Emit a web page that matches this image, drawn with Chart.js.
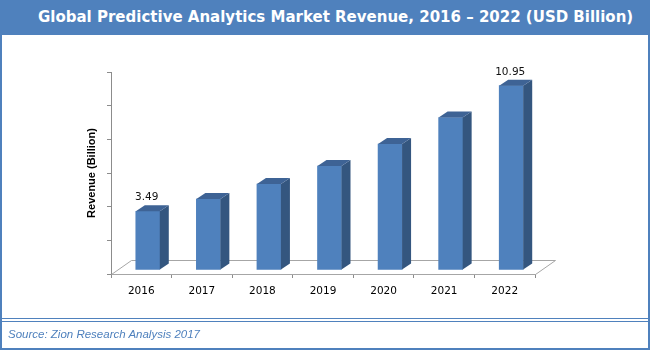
<!DOCTYPE html>
<html><head><meta charset="utf-8">
<script src="https://cdn.jsdelivr.net/npm/chart.js@4/dist/chart.umd.min.js"></script>
<style>
html,body{margin:0;padding:0;background:#fff;}
#wrap{position:relative;width:650px;height:350px;overflow:hidden;background:#fff;}
#c{position:absolute;left:0;top:0;}
#head{position:absolute;left:0;top:0;width:650px;height:35px;background:#4f81bd;}
#title{position:absolute;left:38px;top:0;line-height:34px;color:#fff;font-weight:bold;font-size:15px;font-family:"DejaVu Sans",Verdana,sans-serif;white-space:nowrap;}
#frame{position:absolute;left:0;top:0;width:650px;height:350px;box-sizing:border-box;border:2px solid #4f81bd;pointer-events:none;}
#sep1{position:absolute;left:0;top:318px;width:650px;height:1px;background:#4f81bd;}
#sep2{position:absolute;left:0;top:321px;width:650px;height:1px;background:#4f81bd;}
#src{position:absolute;left:8px;top:327px;line-height:15px;color:#4f81bd;font-style:italic;font-size:11.5px;font-family:"Liberation Sans",Arial,sans-serif;white-space:nowrap;}
</style>
</head><body>
<div id="wrap">
  <canvas id="c" width="650" height="350"></canvas>
  <div id="head"><div id="title">Global Predictive Analytics Market Revenue, 2016 – 2022 (USD Billion)</div></div>
  <div id="sep1"></div><div id="sep2"></div>
  <div id="src">Source: Zion Research Analysis 2017</div>
  <div id="frame"></div>
</div>
<script>
const years = ['2016', '2017', '2018', '2019', '2020', '2021', '2022'];
const revenue = [3.49, 4.22, 5.11, 6.18, 7.48, 9.06, 10.95];
const labeledYears = ['2016', '2022'];
const yMin = 0, yMax = 12, yStep = 2;
const yTitle = 'Revenue (Billion)';

const FRONT = '#4f81bd', SIDE = '#34567f', TOP = '#3e6395';
const DX = 6.5, DY = -4;   // bar row placement on the floor
const SX = 9, SY = -6;     // bar depth
const FX = 20, FY = -14;   // floor depth
const LABEL_FONT = '10.5px "DejaVu Sans", Verdana, sans-serif';

const depthPlugin = {
  id: 'depth',
  beforeDatasetsDraw(chart) {
    const {ctx, chartArea: a} = chart;
    ctx.save();
    ctx.strokeStyle = '#a6a6a6';
    ctx.lineWidth = 1;
    ctx.beginPath();
    ctx.moveTo(a.left + 0.5, a.bottom + 0.5);
    ctx.lineTo(a.left + FX + 0.5, a.bottom + FY + 0.5);
    ctx.lineTo(a.right + FX + 0.5, a.bottom + FY + 0.5);
    ctx.lineTo(a.right + 0.5, a.bottom + 0.5);
    ctx.stroke();
    ctx.restore();
    ctx.save();
    ctx.translate(DX, DY);
  },
  afterDatasetsDraw(chart) {
    const {ctx} = chart;
    const meta = chart.getDatasetMeta(0);
    meta.data.forEach((el) => {
      const {x, y, base, width} = el.getProps(['x', 'y', 'base', 'width'], true);
      const l = x - width / 2, r = x + width / 2;
      ctx.fillStyle = SIDE;
      ctx.beginPath();
      ctx.moveTo(r, y); ctx.lineTo(r + SX, y + SY); ctx.lineTo(r + SX, base + SY); ctx.lineTo(r, base);
      ctx.closePath(); ctx.fill();
      ctx.fillStyle = TOP;
      ctx.beginPath();
      ctx.moveTo(l, y); ctx.lineTo(l + SX, y + SY); ctx.lineTo(r + SX, y + SY); ctx.lineTo(r, y);
      ctx.closePath(); ctx.fill();
    });
    ctx.restore();
    ctx.save();
    ctx.fillStyle = '#111';
    ctx.font = LABEL_FONT;
    ctx.textAlign = 'center';
    ctx.textBaseline = 'middle';
    meta.data.forEach((el, i) => {
      if (!labeledYears.includes(years[i])) return;
      const {x, y} = el.getProps(['x', 'y'], true);
      ctx.fillText(revenue[i].toFixed(2), x + DX - 1, y + DY - 13.5);
    });
    ctx.restore();
  }
};

new Chart(document.getElementById('c'), {
  type: 'bar',
  data: {
    labels: years,
    datasets: [{
      data: revenue,
      backgroundColor: FRONT,
      borderWidth: 0,
      barThickness: 24,
      clip: false
    }]
  },
  options: {
    responsive: false,
    animation: false,
    events: [],
    layout: {padding: {left: 0, top: 72, right: 115, bottom: 36}},
    plugins: {legend: {display: false}, tooltip: {enabled: false}},
    scales: {
      x: {
        grid: {display: true, drawOnChartArea: false, drawTicks: true, tickLength: 4, color: '#8c8c8c', offset: true},
        border: {display: true, color: '#a6a6a6'},
        ticks: {font: {family: 'DejaVu Sans', size: 10.5}, color: '#000', padding: 7, maxRotation: 0},
        afterFit(s) { s.height = 40; }
      },
      y: {
        min: yMin, max: yMax,
        ticks: {display: false, stepSize: yStep},
        grid: {drawOnChartArea: false, drawTicks: true, tickLength: 4, color: '#8c8c8c'},
        border: {display: true, color: '#8c8c8c'},
        title: {display: true, text: yTitle, color: '#000', font: {family: 'Liberation Sans', size: 11, weight: 'bold'}, padding: {top: 85, bottom: 0}},
        afterFit(s) { s.width = 111; }
      }
    }
  },
  plugins: [depthPlugin]
});
</script>
</body></html>
